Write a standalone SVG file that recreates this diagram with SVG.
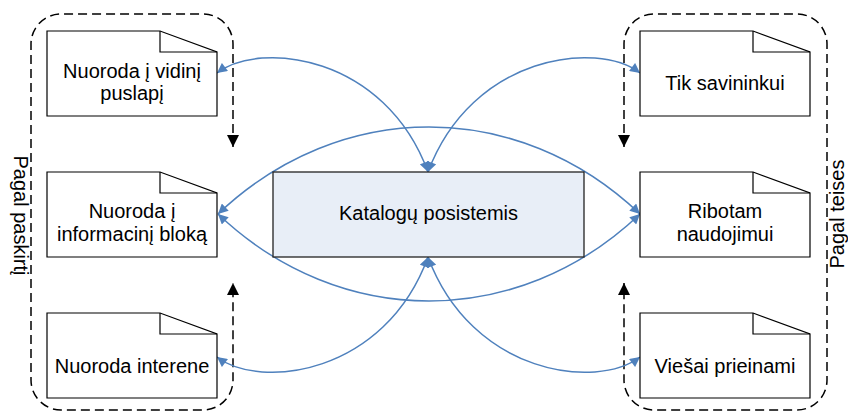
<svg xmlns="http://www.w3.org/2000/svg" width="848" height="413" viewBox="0 0 848 413">
<defs>
<style>
.doc{fill:#fff;stroke:#000;stroke-width:1.2}
.fold{fill:none;stroke:#000;stroke-width:1.2}
.t{font-family:"Liberation Sans",Arial,sans-serif;font-size:20px;fill:#000;text-anchor:middle}
.blue{fill:none;stroke:#4F81BD;stroke-width:1.5;marker-start:url(#ba);marker-end:url(#ba)}
.blue1{fill:none;stroke:#4F81BD;stroke-width:1.5;marker-start:url(#ba);marker-end:url(#ba)}
.dash{fill:none;stroke:#000;stroke-width:1.5;stroke-dasharray:9 5;marker-start:url(#ka);marker-end:url(#ka)}
</style>
<marker id="ba" viewBox="0 0 10 10" refX="10" refY="5" markerUnits="userSpaceOnUse" markerWidth="11" markerHeight="10" orient="auto-start-reverse">
<path d="M0,0 L10,5 L0,10 z" fill="#4F81BD"/>
</marker>
<marker id="ka" viewBox="0 0 10 10" refX="10" refY="5" markerUnits="userSpaceOnUse" markerWidth="12" markerHeight="12" orient="auto-start-reverse">
<path d="M0,0 L10,5 L0,10 z" fill="#000"/>
</marker>
</defs>
<rect width="848" height="413" fill="#fff"/>

<g id="group-left">
<path class="dash" d="M233,147 L233,44 A30,30 0 0 0 203,14 L61,14 A30,30 0 0 0 31,44 L31,380 A30,30 0 0 0 61,410 L203,410 A30,30 0 0 0 233,380 L233,283"/>
<text class="t" transform="translate(14,215.5) rotate(90)" x="0" y="0">Pagal paskirtį</text>
</g>
<g id="group-right">
<path class="dash" d="M624,147 L624,44 A30,30 0 0 1 654,14 L797,14 A30,30 0 0 1 827,44 L827,380 A30,30 0 0 1 797,410 L654,410 A30,30 0 0 1 624,380 L624,283"/>
<text class="t" transform="translate(844,214) rotate(-90)" x="0" y="0">Pagal teises</text>
</g>

<g id="connectors">
<path class="blue" d="M217,73 C260,40 385,55 428,172"/>
<path class="blue" d="M640,73 C597,40 472,55 428,172"/>
<path class="blue" d="M218,214 C340,98 518,98 640,214"/>
<path class="blue" d="M218,214 C340,330 518,330 640,214"/>
<path class="blue" d="M217,357 C260,390 385,375 428,257"/>
<path class="blue" d="M640,357 C597,390 472,375 428,257"/>
</g>

<g id="node-katalogu">
<rect x="273" y="172" width="311" height="85" fill="#E8EEF7" stroke="#222" stroke-width="1.3"/>
<text class="t" x="428.5" y="220">Katalogų posistemis</text>
</g>

<g id="node-vidini">
<path class="doc" d="M47,31 L160,31 L217,52 L217,116 L47,116 Z"/>
<path class="fold" d="M160,31 L160,52 L217,52"/>
<text class="t" x="132" y="78">Nuoroda į vidinį</text>
<text class="t" x="132" y="100">puslapį</text>
</g>
<g id="node-informacini">
<path class="doc" d="M47,172 L160,172 L217,193 L217,257 L47,257 Z"/>
<path class="fold" d="M160,172 L160,193 L217,193"/>
<text class="t" x="132" y="218">Nuoroda į</text>
<text class="t" x="132" y="241">informacinį bloką</text>
</g>
<g id="node-interene">
<path class="doc" d="M47,313 L160,313 L217,334 L217,398 L47,398 Z"/>
<path class="fold" d="M160,313 L160,334 L217,334"/>
<text class="t" x="132" y="373">Nuoroda interene</text>
</g>

<g id="node-savininkui">
<path class="doc" d="M640,31 L753,31 L810,52 L810,116 L640,116 Z"/>
<path class="fold" d="M753,31 L753,52 L810,52"/>
<text class="t" x="725" y="90">Tik savininkui</text>
</g>
<g id="node-ribotam">
<path class="doc" d="M640,172 L753,172 L810,193 L810,257 L640,257 Z"/>
<path class="fold" d="M753,172 L753,193 L810,193"/>
<text class="t" x="725" y="218">Ribotam</text>
<text class="t" x="725" y="241">naudojimui</text>
</g>
<g id="node-viesai">
<path class="doc" d="M640,313 L753,313 L810,334 L810,398 L640,398 Z"/>
<path class="fold" d="M753,313 L753,334 L810,334"/>
<text class="t" x="725" y="373">Viešai prieinami</text>
</g>
</svg>
